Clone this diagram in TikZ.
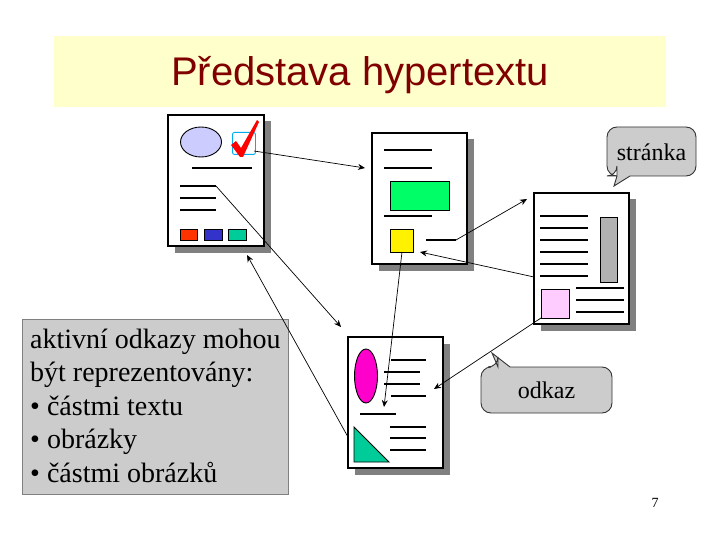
\documentclass[tikz,border=0pt]{standalone}
\usepackage{fontspec}
\setmainfont{Liberation Serif}
\newfontfamily\titlefont{Liberation Sans}
\usetikzlibrary{shadows,arrows.meta}
\definecolor{titlebg}{HTML}{FFFFCC}
\definecolor{titlefg}{HTML}{800000}
\definecolor{shadowgray}{HTML}{808080}
\definecolor{boxgray}{HTML}{CCCCCC}
\definecolor{ovalblue}{HTML}{CCCCFF}
\definecolor{sqred}{HTML}{FF3300}
\definecolor{sqblue}{HTML}{3333CC}
\definecolor{sqgreen}{HTML}{00CC99}
\definecolor{brightgreen}{HTML}{00FF66}
\definecolor{rodgray}{HTML}{B2B2B2}
\definecolor{pinkfill}{HTML}{FFCCFF}
\definecolor{magentafill}{HTML}{FF00CC}
\tikzset{
  pagebox/.style={draw, fill=white, line width=1.2pt, anchor=north west,
    inner sep=0pt, outer sep=0pt, minimum width=95pt, minimum height=131pt,
    drop shadow={shadow xshift=6.5pt, shadow yshift=-6.5pt, fill=shadowgray, opacity=1}},
  txtline/.style={line width=1.1pt},
  thickline/.style={line width=2.4pt},
  link/.style={line width=0.7pt, -{Stealth[length=7pt,width=6pt]}},
  plainlink/.style={line width=0.7pt},
  bubble/.style={draw=black!80, fill=boxgray, line width=0.9pt, rounded corners=10pt},
  bubbletext/.style={font=\fontsize{24}{28}\selectfont},
  listtext/.style={font=\fontsize{28}{33.5}\selectfont, anchor=base west, inner sep=0pt},
}
\begin{document}
\begin{tikzpicture}[x=1pt,y=-1pt]
\useasboundingbox (0,0) rectangle (720,540);

% title
\node[fill=titlebg, minimum width=612pt, minimum height=71pt, anchor=north west, inner sep=0pt] (band) at (54,36) {};
\node[font=\titlefont\fontsize{40}{48}\selectfont, text=titlefg, anchor=base, inner sep=0pt] (title) at (360,86) {Představa hypertextu};

% pages
\node[pagebox, minimum width=96pt] (p1) at (168,115) {};
\node[pagebox] (p2) at (372,133) {};
\node[pagebox] (p3) at (534,193) {};
\node[pagebox] (p4) at (348,337) {};

% page 1 contents
\draw[fill=ovalblue, line width=0.9pt] (201,142) ellipse [x radius=20.5pt, y radius=15pt];
\node[draw=cyan, line width=0.9pt, rounded corners=2pt, minimum width=23pt, minimum height=22pt, inner sep=0pt, anchor=north west] (cb) at (232,132) {};
\fill[red] (231,145) -- (236,141) -- (241,148) -- (257,120) -- (259,122) -- (243,157) -- (240,157) -- cycle;
\draw[thickline] (192,168) -- (252,168);
\draw[txtline] (180,186) -- (216,186);
\draw[txtline] (180,198) -- (216,198);
\draw[txtline] (180,210) -- (216,210);
\draw[fill=sqred, line width=0.9pt] (180,229) rectangle (197,240);
\draw[fill=sqblue, line width=0.9pt] (204,229) rectangle (222,240);
\draw[fill=sqgreen, line width=0.9pt] (228,229) rectangle (246,240);

% page 2 contents
\draw[thickline] (384,150) -- (432,150);
\draw[txtline] (384,168) -- (432,168);
\draw[fill=brightgreen, line width=0.9pt] (390,181) rectangle (449,210);
\draw[txtline] (384,216) -- (432,216);
\node[draw, fill=yellow, line width=0.9pt, minimum width=23pt, minimum height=23pt, inner sep=0pt, anchor=north west] (ysq) at (390,229) {};
\draw[txtline] (426,240) -- (456,240);

% page 3 contents
\foreach \yy in {216,228,240,252,264,276} \draw[txtline] (540,\yy) -- (588,\yy);
\draw[fill=rodgray, line width=0.9pt] (600,217) rectangle (617,282);
\node[draw, fill=pinkfill, line width=0.9pt, minimum width=28pt, minimum height=29pt, inner sep=0pt, anchor=north west] (pink) at (541,289) {};
\foreach \yy in {288,300,312} \draw[txtline] (576,\yy) -- (624,\yy);

% page 4 contents
\draw[fill=magentafill, line width=0.9pt] (366,376) ellipse [x radius=11.5pt, y radius=27pt];
\draw[txtline] (391,360) -- (426,360);
\draw[txtline] (384,372) -- (420,372);
\draw[txtline] (384,384) -- (420,384);
\draw[txtline] (391,396) -- (426,396);
\draw[txtline] (360,414) -- (396,414);
\draw[fill=sqgreen, line width=0.9pt] (354,427) -- (354,462) -- (389,462) -- cycle;
\foreach \yy in {427,438,450} \draw[txtline] (390,\yy) -- (426,\yy);

% text box
\node[draw=shadowgray, fill=boxgray, line width=0.9pt, minimum width=266pt, minimum height=175pt, anchor=north west, inner sep=0pt] (tbox) at (22,319) {};
\node[listtext] (t1) at (30,348) {aktivní odkazy mohou};
\node[listtext] (t2) at (30,381.5) {být reprezentovány:};
\node[listtext] (t3) at (30,415) {• částmi textu};
\node[listtext] (t4) at (30,448.5) {• obrázky};
\node[listtext] (t5) at (30,482) {• částmi obrázků};

% callouts
\draw[bubble] (607,151) -- (607,176) -- (617,176) [sharp corners] -- (617,176) -- (614,186) -- (630,176) [rounded corners=10pt] -- (696,176) -- (696,127) -- (607,127) -- cycle;
\node[bubbletext] (lblstranka) at (651.5,152) {stránka};
\draw[bubble] (481,390) -- (481,367) -- (498,367) [sharp corners] -- (498,367) -- (492,353) -- (510,367) [rounded corners=10pt] -- (612,367) -- (612,413) -- (481,413) -- cycle;
\node[bubbletext] (lblodkaz) at (546.5,390) {odkaz};

% page number
\node[font=\fontsize{14}{16}\selectfont] (pnum) at (655,503) {7};

% connector end points
\coordinate (a1s) at (254,151);
\coordinate (a1e) at (365,168);
\coordinate (a2s) at (216,186);
\coordinate (a2e) at (341,327);
\coordinate (a3s) at (348,437);
\coordinate (a3e) at (247,255);
\coordinate (a4s) at (402,252);
\coordinate (a4e) at (384,407);
\coordinate (a5s) at (456,240);
\coordinate (a5e) at (527,199);
\coordinate (a6s) at (534,277);
\coordinate (a6e) at (420,252);
\coordinate (a7s) at (541,318);
\coordinate (a7e) at (434,389);

\draw[link] (a1s) -- (a1e);
\draw[link] (a2s) -- (a2e);
\draw[link] (a3s) -- (a3e);
\draw[link] (a4s) -- (a4e);
\draw[link] (a5s) -- (a5e);
\draw[link] (a6s) -- (a6e);
\draw[link] (a7s) -- (a7e);
\end{tikzpicture}
\end{document}
